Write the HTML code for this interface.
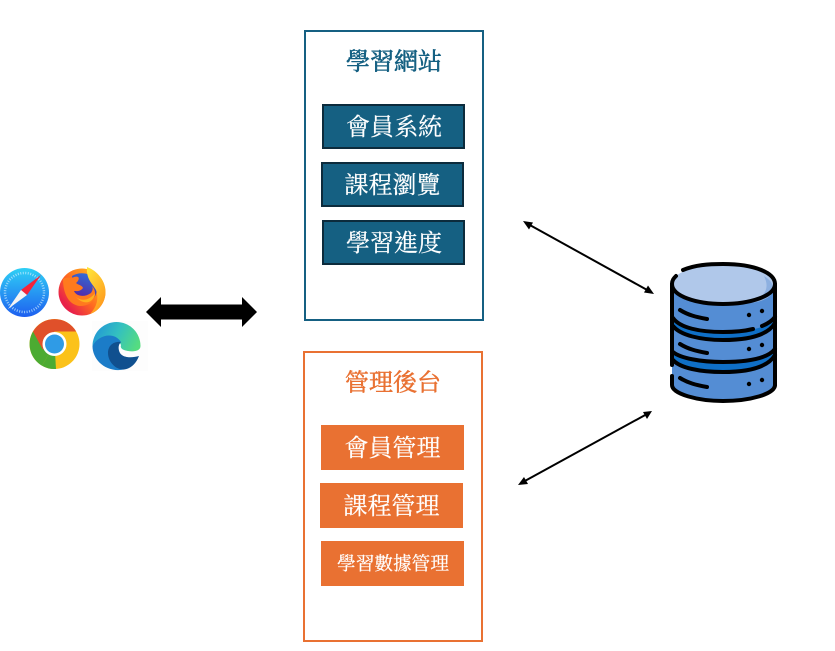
<!DOCTYPE html>
<html>
<head>
<meta charset="utf-8">
<style>
html,body{margin:0;padding:0;background:#fff;width:835px;height:651px;overflow:hidden}
svg{display:block}
text{font-family:"Liberation Serif","Noto Serif CJK TC","Noto Serif CJK SC",serif;text-anchor:middle}
</style>
</head>
<body>
<svg width="835" height="651" viewBox="0 0 835 651" xmlns="http://www.w3.org/2000/svg">
<defs>
<linearGradient id="saf" x1="0" y1="0" x2="0" y2="1"><stop offset="0" stop-color="#2fd0f5"/><stop offset="1" stop-color="#1e5ff0"/></linearGradient>
<linearGradient id="ff" x1="0.8" y1="0.1" x2="0.1" y2="0.7"><stop offset="0" stop-color="#ffb51e"/><stop offset="0.55" stop-color="#ff6a20"/><stop offset="1" stop-color="#e8224a"/></linearGradient>
<linearGradient id="ffy" x1="0" y1="0" x2="0.6" y2="1"><stop offset="0" stop-color="#ffe83a"/><stop offset="1" stop-color="#ff9a1e"/></linearGradient>
<linearGradient id="ffb" x1="0.7" y1="0" x2="0.4" y2="1"><stop offset="0" stop-color="#2f6fd8"/><stop offset="1" stop-color="#5a1fa0"/></linearGradient>
<linearGradient id="edge" x1="0" y1="0.3" x2="1" y2="0.6"><stop offset="0" stop-color="#2196d6"/><stop offset="0.5" stop-color="#33c0c0"/><stop offset="1" stop-color="#55dc80"/></linearGradient>
</defs>

<!-- Safari -->
<circle cx="24.500" cy="292.500" r="24.500" fill="url(#saf)"/>
<circle cx="24.500" cy="292.500" r="19.500" fill="none" stroke="#cfeeff" stroke-width="2.500" stroke-dasharray="1 1.500" opacity=".7"/>
<polygon points="41,275 27,295 21,290" fill="#f5233a"/>
<polygon points="8,309 21,290 27,295" fill="#f4f4f4"/>

<!-- Firefox -->
<circle cx="82" cy="292" r="23.500" fill="url(#ff)"/>
<path d="M72 276 C78 272 88 272 94 278 C98 284 98 292 94 298 C88 303 78 302 74 296Z" fill="url(#ffb)"/>
<path d="M63 279 C67 276 71 279 74 277 C81 275 79 281 76 283 C78 285 82 285 83 288 C80 292 76 291 74 291 C76 296 84 298 91 293 C93 290 93 288 92 286 C98 292 96 306 80 306 C69 305 63 294 63 279Z" fill="#ff7a1e"/>
<path d="M76 297 C82 302 90 300 95 293 C94 303 84 306 76 297Z" fill="#ffb01e"/>
<path d="M87 267 C98 271 105 281 105.500 292 C105.500 302 99 311 90 314 C97 307 99 298 96 290 C92 283 86 279 87 267Z" fill="url(#ffy)"/>

<!-- Chrome -->
<circle cx="54.500" cy="344" r="25" fill="#fbc21a"/>
<path d="M54.500 344 L33 331.500 A25 25 0 0 0 42 365.700Z" fill="#4cab32"/>
<path d="M54.500 344 L42 365.700 A25 25 0 0 0 56 369 Z" fill="#4cab32"/>
<path d="M33 331.500 A25 25 0 0 1 76.200 331.500 L54.500 331.500 L43 350Z" fill="#e0502a"/>
<circle cx="54.500" cy="344" r="12" fill="#fff"/>
<circle cx="54.500" cy="344" r="9.500" fill="#2f9be6"/>

<!-- Edge -->
<rect x="92" y="321" width="56" height="50" fill="#fdfdfd"/>
<path d="M92.500 346 A24 24 0 0 1 140.500 346 C140.500 351 134 352 128 351 C122 350 120 348 121 345 C117 336 104 334 92.500 346Z" fill="url(#edge)"/>
<path d="M92.500 346 C98 335 114 331 121 342 C112 343 108 352 110 358 C112 365 118 369 124 369.500 C106 373 92.500 360 92.500 346Z" fill="#1b7cc8"/>
<path d="M121 342 C113 341 108 346 108 353 C108 362 116 370 124 369.500 C130 369 136 364 139 356 C132 358 123 358 120 353 C118 349 118 345 121 342Z" fill="#10508f"/>

<!-- Thick arrow -->
<polygon points="146,312 161,297 161,304.500 242,304.500 242,297 257,312 242,327 242,319.500 161,319.500 161,327" fill="#000"/>

<!-- Blue group -->
<rect x="305" y="31" width="178" height="289" fill="#fff" stroke="#156082" stroke-width="2"/>
<text x="394" y="69.500" font-size="24" fill="#156082" stroke="#156082" stroke-width=".6">學習網站</text>
<rect x="323" y="105" width="141" height="43" fill="#156082" stroke="#0c2b3c" stroke-width="2"/>
<text x="394" y="135" font-size="24" fill="#fff" stroke="#fff" stroke-width=".2">會員系統</text>
<rect x="322" y="163" width="141" height="43" fill="#156082" stroke="#0c2b3c" stroke-width="2"/>
<text x="392.500" y="193" font-size="24" fill="#fff" stroke="#fff" stroke-width=".2">課程瀏覽</text>
<rect x="323" y="221" width="141" height="43" fill="#156082" stroke="#0c2b3c" stroke-width="2"/>
<text x="394" y="251" font-size="24" fill="#fff" stroke="#fff" stroke-width=".2">學習進度</text>

<!-- Orange group -->
<rect x="304" y="352" width="178" height="289" fill="#fff" stroke="#E97132" stroke-width="2"/>
<text x="393" y="390.500" font-size="24" fill="#E97132" stroke="#E97132" stroke-width=".5">管理後台</text>
<rect x="321" y="425" width="143" height="45" fill="#E97132"/>
<text x="392.500" y="456" font-size="24" fill="#fff" stroke="#fff" stroke-width=".2">會員管理</text>
<rect x="320" y="483" width="143" height="45" fill="#E97132"/>
<text x="391.500" y="514" font-size="24" fill="#fff" stroke="#fff" stroke-width=".2">課程管理</text>
<rect x="321" y="541" width="143" height="45" fill="#E97132"/>
<text x="393" y="570" font-size="18.670" fill="#fff" stroke="#fff" stroke-width=".2">學習數據管理</text>

<!-- Thin arrows -->
<g stroke="#000" stroke-width="2">
<line x1="528" y1="224" x2="649" y2="291"/>
<line x1="523" y1="482" x2="647" y2="414"/>
</g>
<polygon points="523,221 533,222.500 529,229.500" fill="#000"/>
<polygon points="654,294 644,292.500 648,285.500" fill="#000"/>
<polygon points="518,485 524,477 528,484" fill="#000"/>
<polygon points="652,411 647,419 643,412" fill="#000"/>

<!-- Database -->
<path d="M672 284 V384 C672 394 698 401 723 401 C750 401 775 394 775 384 V284Z" fill="#548DD4"/>
<path d="M672 318 C680 328 700 332 723 332 C750 332 768 328 775 317 V323 C768 335 750 340 723 340 C700 340 680 335 672 325Z" fill="#0F6FC6"/>
<path d="M672 352 C680 358 700 362 723 362 C750 362 768 358 775 349 V355 C768 367 750 372 723 372 C700 372 680 368 672 359Z" fill="#0F6FC6"/>
<ellipse cx="723" cy="284" rx="51" ry="20" fill="#B0C8EA"/>
<path d="M745 303 C760 300 772 292 764 276 C774 282 776 290 770 296 C764 301 755 303 745 303Z" fill="#8DB0E0"/>
<g stroke="#000" stroke-width="4" stroke-linecap="round" fill="none">
<path d="M683 270 C695 265 708 264 723 264 C755 264 775 273 775 284 C775 296 750 304 723 304 C696 304 672 296 672 284 C672 280 674 278 676 276"/>
<path d="M672 284 V365"/>
<path d="M775 284 V385"/>
<path d="M673 318 C680 328 700 332 723 332 C735 332 745 331 753 329"/>
<path d="M762 326 C767 324 772 321 775 317"/>
<path d="M673 326 C680 335 700 340 723 340 C750 340 768 335 775 323"/>
<path d="M673 352 C680 358 700 362 723 362 C750 362 768 358 775 349"/>
<path d="M673 360 C680 368 700 372 723 372 C750 372 768 367 775 355"/>
<path d="M672 376 V385 C672 394 698 401 723 401 C750 401 775 394 775 385"/>
<path d="M680 310 C688 315 696 317 707 319"/>
<path d="M680 344 C688 349 696 351 707 353"/>
<path d="M680 378 C688 383 696 385 707 387"/>
</g>
<g fill="#000">
<circle cx="749" cy="315" r="2.200"/><circle cx="762" cy="311" r="2.200"/>
<circle cx="749" cy="349" r="2.200"/><circle cx="762" cy="345" r="2.200"/>
<circle cx="749" cy="384" r="2.200"/><circle cx="762" cy="380" r="2.200"/>
</g>
</svg>
</body>
</html>
